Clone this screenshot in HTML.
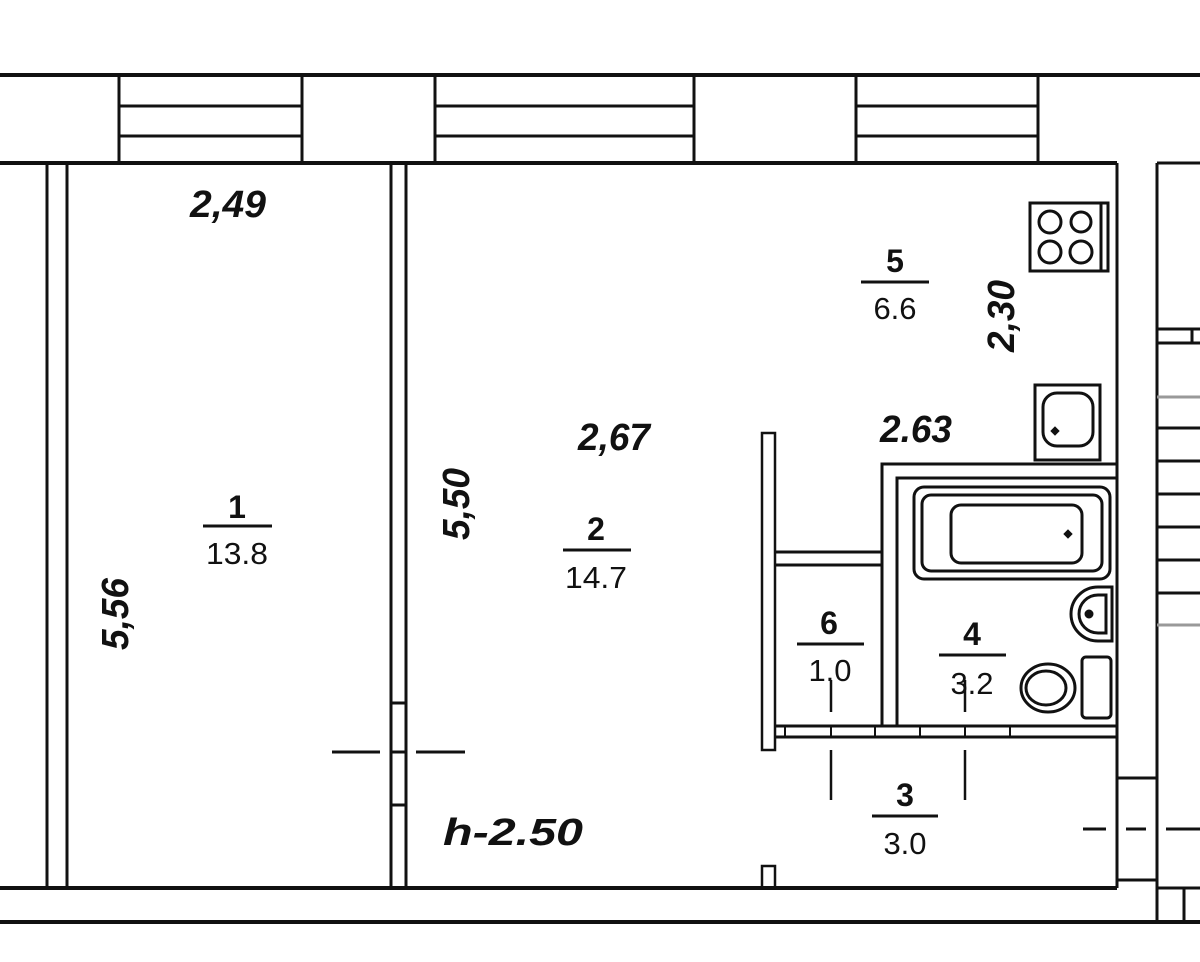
<!DOCTYPE html>
<html><head><meta charset="utf-8"><style>
html,body{margin:0;padding:0;background:#fff;}
svg{display:block;}
text{font-family:"Liberation Sans",sans-serif;fill:#111;}
.it{font-style:italic;font-weight:bold;font-size:38px;}
.lb{font-weight:bold;font-size:32px;}
.n{font-size:31px;}
</style></head><body>
<svg width="1200" height="962" viewBox="0 0 1200 962" xmlns="http://www.w3.org/2000/svg">
<g stroke="#111" fill="none" stroke-width="3">
<line x1="0" y1="75" x2="1200" y2="75" stroke-width="4"/>
<line x1="0" y1="163" x2="1117" y2="163" stroke-width="4"/>
<line x1="1157" y1="163" x2="1200" y2="163" stroke-width="3"/>
<g stroke-width="3">
<line x1="119" y1="75" x2="119" y2="163"/><line x1="302" y1="75" x2="302" y2="163"/>
<line x1="119" y1="106" x2="302" y2="106"/><line x1="119" y1="136" x2="302" y2="136"/>
<line x1="435" y1="75" x2="435" y2="163"/><line x1="694" y1="75" x2="694" y2="163"/>
<line x1="435" y1="106" x2="694" y2="106"/><line x1="435" y1="136" x2="694" y2="136"/>
<line x1="856" y1="75" x2="856" y2="163"/><line x1="1038" y1="75" x2="1038" y2="163"/>
<line x1="856" y1="106" x2="1038" y2="106"/><line x1="856" y1="136" x2="1038" y2="136"/>
</g>
<line x1="47" y1="163" x2="47" y2="888"/><line x1="67" y1="163" x2="67" y2="888"/>
<line x1="391" y1="163" x2="391" y2="888"/><line x1="406" y1="163" x2="406" y2="888"/>
<line x1="391" y1="703" x2="406" y2="703"/><line x1="391" y1="752" x2="406" y2="752"/><line x1="391" y1="805" x2="406" y2="805"/>
<line x1="332" y1="752" x2="380" y2="752"/><line x1="416" y1="752" x2="465" y2="752"/>
<line x1="0" y1="888" x2="1117" y2="888" stroke-width="4"/>
<line x1="0" y1="922" x2="1200" y2="922" stroke-width="4"/>
<line x1="1117" y1="163" x2="1117" y2="888"/>
<line x1="1157" y1="163" x2="1157" y2="922"/>
<line x1="1117" y1="778" x2="1157" y2="778"/>
<line x1="1117" y1="880" x2="1157" y2="880"/>
<line x1="1184" y1="888" x2="1184" y2="922"/>
<line x1="1157" y1="888" x2="1200" y2="888"/>
<line x1="1083" y1="829" x2="1106" y2="829"/><line x1="1126" y1="829" x2="1146" y2="829"/><line x1="1166" y1="829" x2="1200" y2="829"/>
<line x1="1157" y1="329" x2="1200" y2="329"/><line x1="1157" y1="343" x2="1200" y2="343"/><line x1="1192" y1="329" x2="1192" y2="343"/>
<line x1="1157" y1="397" x2="1200" y2="397" stroke="#999"/>
<line x1="1157" y1="428" x2="1200" y2="428"/><line x1="1157" y1="461" x2="1200" y2="461"/>
<line x1="1157" y1="494" x2="1200" y2="494"/><line x1="1157" y1="527" x2="1200" y2="527"/>
<line x1="1157" y1="560" x2="1200" y2="560"/><line x1="1157" y1="593" x2="1200" y2="593"/>
<line x1="1157" y1="625" x2="1200" y2="625" stroke="#999"/>
<rect x="762" y="433" width="13" height="317" stroke-width="2.5"/>
<rect x="762" y="866" width="13" height="22" stroke-width="2.5"/>
<line x1="775" y1="552" x2="882" y2="552"/><line x1="775" y1="565" x2="882" y2="565"/>
<polyline points="882,725 882,464 1117,464"/>
<polyline points="897,725 897,478 1117,478"/>
<line x1="775" y1="726" x2="1117" y2="726"/><line x1="775" y1="737" x2="1117" y2="737"/>
<g stroke-width="2"><line x1="785" y1="726" x2="785" y2="737"/><line x1="831" y1="726" x2="831" y2="737"/><line x1="875" y1="726" x2="875" y2="737"/><line x1="920" y1="726" x2="920" y2="737"/><line x1="965" y1="726" x2="965" y2="737"/><line x1="1010" y1="726" x2="1010" y2="737"/></g>
<g stroke-width="2.5">
<line x1="831" y1="680" x2="831" y2="712"/><line x1="831" y1="750" x2="831" y2="800"/>
<line x1="965" y1="680" x2="965" y2="712"/><line x1="965" y1="750" x2="965" y2="800"/>
</g>
<rect x="1030" y="203" width="78" height="68"/>
<line x1="1101" y1="203" x2="1101" y2="271"/>
<circle cx="1050" cy="222" r="11"/><circle cx="1081" cy="222" r="10"/>
<circle cx="1050" cy="252" r="11"/><circle cx="1081" cy="252" r="11"/>
<rect x="1035" y="385" width="65" height="75"/>
<rect x="1043" y="393" width="50" height="53" rx="14"/>
<path d="M1055 427 l4 4 l-4 4 l-4 -4z" fill="#111" stroke-width="1"/>
<rect x="914" y="487" width="196" height="92" rx="10"/>
<rect x="922" y="495" width="180" height="76" rx="9"/>
<rect x="951" y="505" width="131" height="58" rx="10"/>
<path d="M1068 530 l4 4 l-4 4 l-4 -4z" fill="#111" stroke-width="1"/>
<path d="M1112 587 L1098 587 A27 27 0 0 0 1098 641 L1112 641 Z"/>
<path d="M1106 595 L1098 595 A19 19 0 0 0 1098 633 L1106 633 Z"/>
<circle cx="1089" cy="614" r="3" fill="#111"/>
<rect x="1082" y="657" width="29" height="61" rx="4"/>
<ellipse cx="1048" cy="688" rx="27" ry="24"/>
<ellipse cx="1046" cy="688" rx="20" ry="17"/>
</g>
<text class="it" x="190" y="217" textLength="76" lengthAdjust="spacingAndGlyphs">2,49</text>
<text class="it" transform="translate(128,650) rotate(-90)" textLength="72" lengthAdjust="spacingAndGlyphs">5,56</text>
<text class="it" transform="translate(469,540) rotate(-90)" textLength="72" lengthAdjust="spacingAndGlyphs">5,50</text>
<text class="it" x="578" y="450" textLength="72" lengthAdjust="spacingAndGlyphs">2,67</text>
<text class="it" transform="translate(1014,352) rotate(-90)" textLength="72" lengthAdjust="spacingAndGlyphs">2,30</text>
<text class="it" x="880" y="442" textLength="72" lengthAdjust="spacingAndGlyphs">2.63</text>
<text class="it" x="443" y="845" font-size="48" textLength="140" lengthAdjust="spacingAndGlyphs">h-2.50</text>
<g text-anchor="middle">
<text class="lb" x="237" y="518">1</text><line x1="203" y1="526" x2="272" y2="526" stroke="#111" stroke-width="3"/><text class="n" x="237" y="564" textLength="62" lengthAdjust="spacingAndGlyphs">13.8</text>
<text class="lb" x="596" y="540">2</text><line x1="563" y1="550" x2="631" y2="550" stroke="#111" stroke-width="3"/><text class="n" x="596" y="588" textLength="62" lengthAdjust="spacingAndGlyphs">14.7</text>
<text class="lb" x="895" y="272">5</text><line x1="861" y1="282" x2="929" y2="282" stroke="#111" stroke-width="3"/><text class="n" x="895" y="319">6.6</text>
<text class="lb" x="829" y="634">6</text><line x1="797" y1="644" x2="864" y2="644" stroke="#111" stroke-width="3"/><text class="n" x="830" y="681">1.0</text>
<text class="lb" x="972" y="645">4</text><line x1="939" y1="655" x2="1006" y2="655" stroke="#111" stroke-width="3"/><text class="n" x="972" y="694">3.2</text>
<text class="lb" x="905" y="806">3</text><line x1="872" y1="816" x2="938" y2="816" stroke="#111" stroke-width="3"/><text class="n" x="905" y="854">3.0</text>
</g>
</svg>
</body></html>
